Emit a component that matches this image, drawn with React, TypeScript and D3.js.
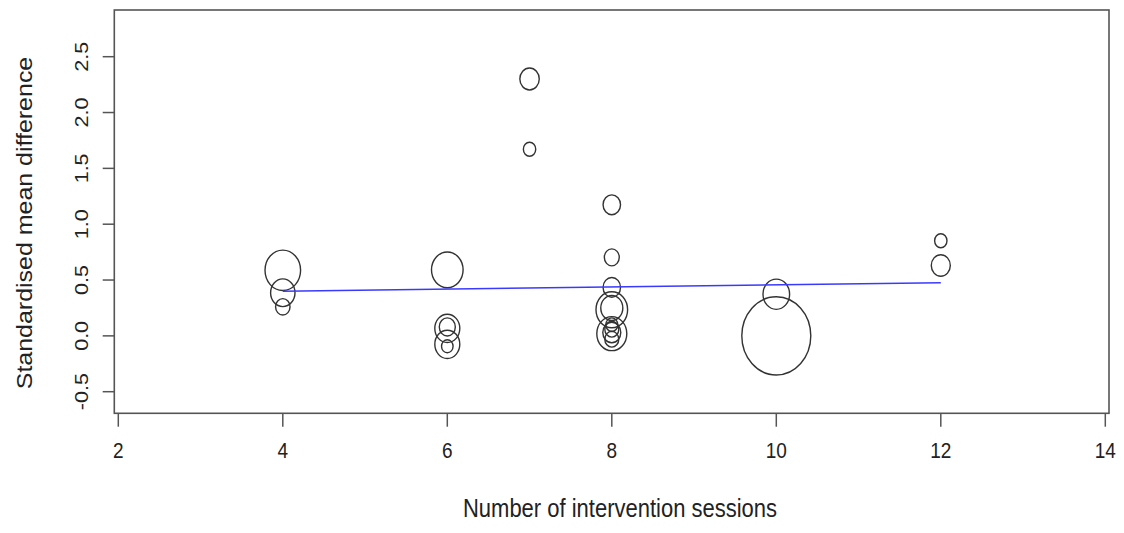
import React from "react";
import * as d3 from "d3";

const sessions = [4, 4, 4, 6, 6, 6, 6, 6, 7, 7, 8, 8, 8, 8, 8, 8, 8, 8, 8, 8, 10, 10, 12, 12];
const smd = [0.587, 0.386, 0.26, 0.591, 0.067, 0.08, -0.076, -0.093, 2.3, 1.671, 1.174, 0.703, 0.434, 0.234, 0.25, 0.02, 0.1, 0.06, 0.03, -0.03, 0.373, 0.0, 0.852, 0.63];
const weights = [26.6, 12.5, 4.4, 21, 13.1, 5.4, 13.1, 2.8, 7.9, 3.2, 6.4, 4.7, 6.4, 21, 10.2, 18.9, 3.0, 4.1, 6.8, 4.1, 14.9, 100, 3.2, 7.6];
const fitX = [4, 12];
const fitY = [0.4, 0.476];
const xTicks = [2, 4, 6, 8, 10, 12, 14];
const yTicks = [-0.5, 0, 0.5, 1, 1.5, 2, 2.5];
const xTitle = "Number of intervention sessions";
const yTitle = "Standardised mean difference";

const W = 1124;
const H = 533;
const STRETCH = 1.135;
const FONT = "Liberation Sans, Arial, Helvetica, sans-serif";

export default function App() {
  const x = d3.scaleLinear().domain([2, 14]).range([118.3, 1105.3]);
  const y = d3.scaleLinear().domain([-0.5, 2.5]).range([391.7, 56.7]);
  const r = d3.scaleSqrt().domain([0, 100]).range([0, 34.5]);
  const box = { left: 114.3, right: 1109, top: 10, bottom: 413.3 };
  const line = d3
    .line<number>()
    .x((_, i) => x(fitX[i]))
    .y((d) => y(d));

  return (
    <svg
      width={W}
      height={H}
      style={{ position: "absolute", left: 0, top: 0, background: "#fff" }}
      fontFamily={FONT}
    >
      <rect x={0} y={0} width={W} height={H} fill="#fff" />
      {sessions.map((s, i) => (
        <ellipse
          key={i}
          cx={x(s)}
          cy={y(smd[i])}
          rx={r(weights[i])}
          ry={r(weights[i]) * STRETCH}
          fill="none"
          stroke="#333"
          strokeWidth={1.4}
        />
      ))}
      <path d={line(fitY) || ""} fill="none" stroke="#3a3aff" strokeWidth={1.6} />
      <rect
        x={box.left}
        y={box.top}
        width={box.right - box.left}
        height={box.bottom - box.top}
        fill="none"
        stroke="#555"
        strokeWidth={1.6}
      />
      {yTicks.map((t) => (
        <g key={"y" + t}>
          <line x1={102.7} x2={box.left} y1={y(t)} y2={y(t)} stroke="#555" strokeWidth={1.5} />
          <text
            transform={`translate(88,${y(t)}) scale(1,${STRETCH}) rotate(-90)`}
            textAnchor="middle"
            fontSize={19}
            fill="#222"
          >
            {t.toFixed(1)}
          </text>
        </g>
      ))}
      {xTicks.map((t) => (
        <g key={"x" + t}>
          <line x1={x(t)} x2={x(t)} y1={box.bottom} y2={426.7} stroke="#555" strokeWidth={1.5} />
          <text
            transform={`translate(${x(t)},458) scale(1,${STRETCH})`}
            textAnchor="middle"
            fontSize={19}
            fill="#222"
          >
            {t}
          </text>
        </g>
      ))}
      <text
        transform={`translate(620,517) scale(1,${STRETCH})`}
        textAnchor="middle"
        fontSize={22}
        fill="#222"
      >
        {xTitle}
      </text>
      <text
        transform={`translate(32,223) scale(1,${STRETCH}) rotate(-90)`}
        textAnchor="middle"
        fontSize={22}
        fill="#222"
      >
        {yTitle}
      </text>
    </svg>
  );
}
